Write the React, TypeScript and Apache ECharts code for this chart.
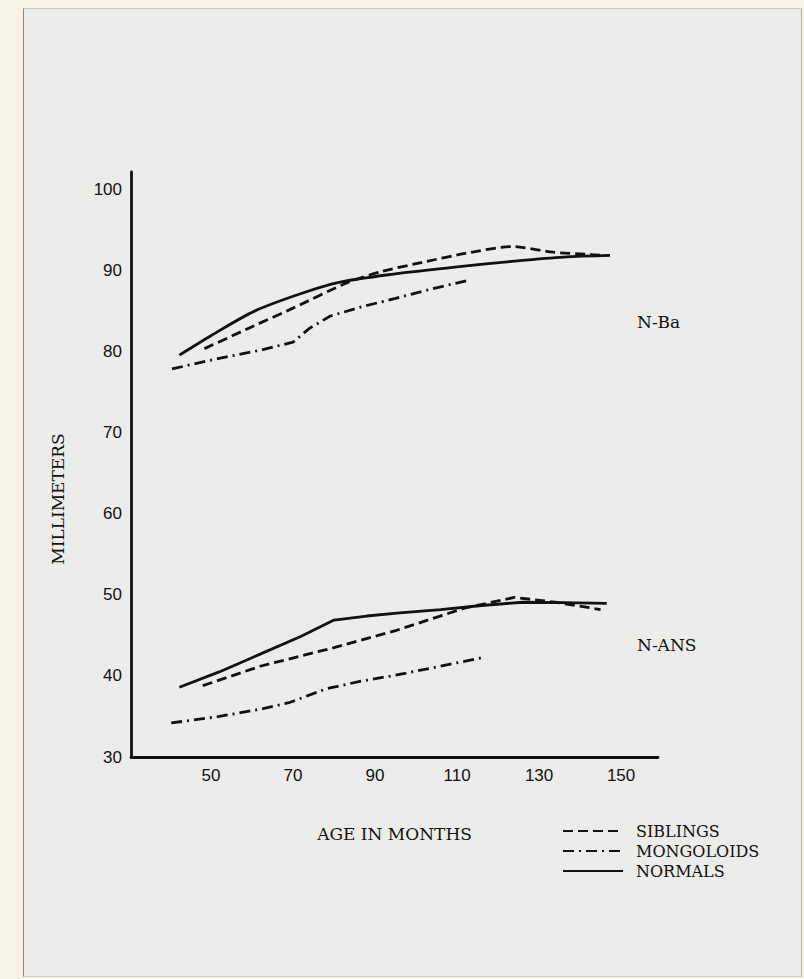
import React, { useEffect, useRef } from "react";
import * as echarts from "echarts";

// Axis ticks
const xTicks = [50, 70, 90, 110, 130, 150];
const yTicks = [30, 40, 50, 60, 70, 80, 90, 100];

// Legend / series names
const seriesNames = ["SIBLINGS", "MONGOLOIDS", "NORMALS"];

// N-Ba measurements [age in months, millimeters]
const siblingsNBa = [
  [48.4, 80.4], [60, 83.1], [70, 85.4], [83.5, 88.6], [91.5, 89.9], [102, 91.1],
  [112.5, 92.2], [123.5, 93.0], [133.5, 92.3], [143, 92.0], [146.6, 91.9],
];
const mongoloidsNBa = [
  [40.5, 77.9], [52, 79.2], [62, 80.2], [70, 81.2], [74, 82.9], [79, 84.4],
  [87, 85.6], [95, 86.6], [104, 87.8], [112.5, 88.8],
];
const normalsNBa = [
  [42.3, 79.6], [50, 82.0], [60.5, 85.0], [72, 87.2], [81.5, 88.6], [94.5, 89.6],
  [110, 90.5], [124, 91.2], [136, 91.7], [147.3, 91.9],
];

// N-ANS measurements [age in months, millimeters]
const siblingsNANS = [
  [48, 38.8], [62, 41.2], [80, 43.5], [95, 45.6], [112, 48.4], [124, 49.7],
  [134, 49.1], [145, 48.2],
];
const mongoloidsNANS = [
  [40.3, 34.2], [52, 35.0], [62, 35.9], [69, 36.7], [78, 38.4], [86, 39.3],
  [95, 40.1], [105, 41.1], [116.5, 42.3],
];
const normalsNANS = [
  [42.3, 38.6], [52, 40.5], [62, 42.7], [72, 44.9], [80, 46.9], [88, 47.4],
  [96, 47.8], [106, 48.2], [116, 48.7], [126, 49.1], [136, 49.05], [146.5, 48.95],
];

// Group labels
const groupLabels = ["N-Ba", "N-ANS"];

const INK = "#111111";
const SERIF = "'DejaVu Serif', 'Liberation Serif', serif";
const SANS = "'Liberation Sans', Arial, sans-serif";

const dashStyles: Record<string, any> = {
  SIBLINGS: [10, 5],
  MONGOLOIDS: [11, 5, 2, 5],
  NORMALS: "solid",
};

function lineSeries(name: string, data: number[][], smooth: number) {
  return {
    name,
    type: "line",
    data,
    symbol: "none",
    smooth,
    lineStyle: { color: INK, width: 2.8, type: dashStyles[name], cap: "butt" },
    itemStyle: { color: INK },
    z: name === "NORMALS" ? 3 : 2,
  };
}

export default function App() {
  const ref = useRef<HTMLDivElement>(null);

  useEffect(() => {
    if (!ref.current) return;
    const chart = echarts.init(ref.current, null, { renderer: "svg" });
    chart.setOption({
      animation: false,
      backgroundColor: "transparent",
      grid: { left: 131, top: 172, right: 146, bottom: 222, containLabel: false },
      xAxis: {
        type: "value",
        min: 30.5,
        max: 159,
        name: "AGE IN MONTHS",
        nameLocation: "middle",
        nameGap: 68,
        nameTextStyle: { fontFamily: SERIF, fontSize: 17, color: INK },
        axisLine: { show: true, onZero: false, lineStyle: { color: INK, width: 2.8 } },
        axisTick: { show: false },
        splitLine: { show: false },
        axisLabel: {
          customValues: xTicks,
          margin: 10,
          fontFamily: SANS,
          fontSize: 17,
          color: INK,
        },
      },
      yAxis: {
        type: "value",
        min: 30,
        max: 102.2,
        axisLine: { show: true, onZero: false, lineStyle: { color: INK, width: 2.8 } },
        axisTick: { show: false },
        splitLine: { show: false },
        axisLabel: {
          customValues: yTicks,
          margin: 9,
          fontFamily: SANS,
          fontSize: 17,
          color: INK,
          padding: [0, 0, 3, 0],
        },
      },
      legend: {
        data: seriesNames,
        orient: "vertical",
        left: 557,
        top: 816,
        itemWidth: 60,
        itemHeight: 14,
        itemGap: 0,
        itemStyle: { color: "transparent", borderColor: "transparent", borderWidth: 0 },
        textStyle: {
          fontFamily: SERIF,
          fontSize: 16,
          color: INK,
          lineHeight: 20,
          padding: [0, 0, 0, 8],
        },
        selectedMode: false,
      },
      graphic: [
        {
          type: "text",
          x: 58,
          y: 499,
          rotation: Math.PI / 2,
          style: {
            text: "MILLIMETERS",
            fontFamily: SERIF,
            fontSize: 17,
            fill: INK,
            align: "center",
            verticalAlign: "middle",
            letterSpacing: 0.6,
          },
        },
        {
          type: "text",
          x: 637,
          y: 322,
          style: {
            text: groupLabels[0],
            fontFamily: SERIF,
            fontSize: 17,
            fill: INK,
            align: "left",
            verticalAlign: "middle",
          },
        },
        {
          type: "text",
          x: 637,
          y: 645,
          style: {
            text: groupLabels[1],
            fontFamily: SERIF,
            fontSize: 17,
            fill: INK,
            align: "left",
            verticalAlign: "middle",
          },
        },
      ],
      series: [
        lineSeries("SIBLINGS", siblingsNBa, 0.25),
        lineSeries("MONGOLOIDS", mongoloidsNBa, 0),
        lineSeries("NORMALS", normalsNBa, 0.3),
        lineSeries("SIBLINGS", siblingsNANS, 0),
        lineSeries("MONGOLOIDS", mongoloidsNANS, 0),
        lineSeries("NORMALS", normalsNANS, 0),
      ],
    });
    return () => chart.dispose();
  }, []);

  return (
    <div
      style={{
        position: "fixed",
        left: 0,
        top: 0,
        width: 804,
        height: 979,
        background: "#f7f2e8",
        overflow: "hidden",
      }}
    >
      <div
        style={{
          position: "absolute",
          left: 23,
          top: 8,
          width: 777,
          height: 967,
          background: "#ececeb",
          borderLeft: "1.5px solid #8c867a",
          borderTop: "1px solid #cfcac0",
          borderRight: "1px solid #b8b3aa",
          borderBottom: "1px solid #cfcac0",
        }}
      />
      <div ref={ref} style={{ position: "absolute", left: 0, top: 0, width: 804, height: 979 }} />
    </div>
  );
}
